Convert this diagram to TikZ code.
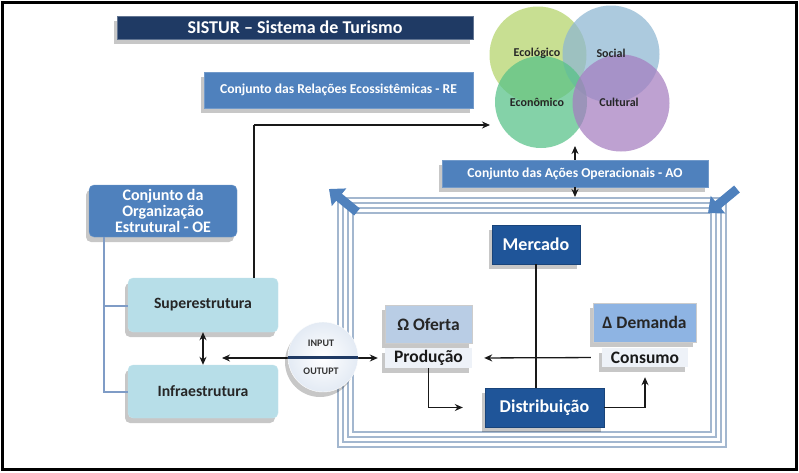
\documentclass[tikz,border=0pt]{standalone}
\usepackage{fontspec}
\setmainfont{Carlito}
\usetikzlibrary{arrows.meta,shadows}
\definecolor{navy}{HTML}{1F3A64}
\definecolor{midblue}{HTML}{4F81BD}
\definecolor{darkblue}{HTML}{1F5599}
\definecolor{cyanbox}{HTML}{B7DEE8}
\definecolor{ofbox}{HTML}{B9CDE5}
\definecolor{dembox}{HTML}{8EB4E3}
\definecolor{palebox}{HTML}{EEF2F8}
\definecolor{framecol}{HTML}{A3B7CF}
\definecolor{bracket}{HTML}{7F9CC6}
\definecolor{ecol}{HTML}{B3D468}
\definecolor{socl}{HTML}{8DB6D2}
\definecolor{econ}{HTML}{55C187}
\definecolor{cult}{HTML}{A57DC0}
\tikzset{
  shad/.style={drop shadow={shadow xshift=-3pt, shadow yshift=-5pt, opacity=0.22, fill=black}},
  boxbase/.style={inner sep=2pt, align=center, font=\bfseries, shad},
  titlebox/.style={boxbase, fill=navy, draw=navy!70, text=white, font=\bfseries\fontsize{18}{20}\selectfont},
  midbox/.style={boxbase, fill=midblue, draw=midblue!80!white, text=white, font=\bfseries\fontsize{13.6}{15}\selectfont},
  oebox/.style={boxbase, fill=midblue, draw=midblue!80!white, rounded corners=5pt, text=white, font=\bfseries\fontsize{16}{19}\selectfont},
  cybox/.style={boxbase, fill=cyanbox, draw=cyanbox!80!white, rounded corners=5pt, text=black!85, font=\bfseries\fontsize{15.7}{18}\selectfont},
  dkbox/.style={boxbase, fill=darkblue, draw=darkblue!80!black, text=white, font=\bfseries\fontsize{18}{20}\selectfont},
  ltbox/.style={boxbase, draw=white!80!black, text=black!85, font=\bfseries\fontsize{17.5}{20}\selectfont},
  pbox/.style={boxbase, fill=palebox, draw=none, text=black!90, font=\bfseries\fontsize{17.5}{20}\selectfont},
  venn/.style={circle, fill opacity=0.72},
  vlab/.style={font=\bfseries\fontsize{12}{14}\selectfont, text=black!85},
  iolab/.style={font=\bfseries\fontsize{10}{12}\selectfont, text=black!80},
  conn/.style={draw=black!90, line width=1.3pt, -{Stealth[length=8pt,width=7pt]}},
  dconn/.style={draw=black!90, line width=1.3pt, {Stealth[length=8pt,width=7pt]}-{Stealth[length=8pt,width=7pt]}},
  bigarrow/.style={draw=midblue, line width=9pt, -{Triangle[width=22pt,length=13pt]}},
}
\begin{document}
\begin{tikzpicture}[x=1pt,y=-1pt]
\useasboundingbox (0,0) rectangle (799,472);
\fill[white] (0,0) rectangle (799,472);
\draw[line width=3pt, black] (2.5,2.5) rectangle (796.5,469);

% nested frames
\foreach \d in {0,5,10,15}
  \draw[framecol, line width=1.3pt] (338+\d,198+\d) rectangle (726-\d,447-\d);

% top boxes
\node[titlebox, minimum width=356pt, minimum height=23pt] (title) at (295,27.5) {SISTUR – Sistema de Turismo};
\node[midbox, minimum width=269pt, minimum height=36pt] (re) at (338.5,90) {Conjunto das Relações Ecossistêmicas - RE};
\node[midbox, minimum width=266pt, minimum height=27pt] (ao) at (575,173.5) {Conjunto das Ações Operacionais - AO};

% Venn
\node[venn, fill=ecol, minimum size=97pt] (eco) at (538,55) {};
\node[venn, fill=socl, minimum size=97pt] (soc) at (611,54) {};
\node[venn, fill=econ, minimum size=92pt] (ecn) at (541,102) {};
\node[venn, fill=cult, minimum size=97pt] (cul) at (621,103) {};
\node[vlab] (ecolab) at (537,53) {Ecológico};
\node[vlab] (soclab) at (611,53) {Social};
\node[vlab] (ecnlab) at (537,102) {Econômico};
\node[vlab] (cullab) at (619,102) {Cultural};

\coordinate (vennbot) at (575,146);
\coordinate (frametop) at (575,197);
\draw[conn] (ao.north) -- (vennbot);
\draw[conn] (ao.south) -- (frametop);

% big blue arrows
\coordinate (tlA) at (357,212);
\coordinate (tlB) at (329,189);
\coordinate (trA) at (737,189);
\coordinate (trB) at (708,213);
\draw[bigarrow] (tlA) -- (tlB);
\draw[bigarrow] (trA) -- (trB);

% left boxes
\node[oebox, minimum width=148pt, minimum height=52pt] (oe) at (163,211) {Conjunto da\\[-3pt]Organização\\[-3pt]Estrutural - OE};
\node[cybox, minimum width=150pt, minimum height=54pt] (sup) at (203,305) {Superestrutura};
\node[cybox, minimum width=150pt, minimum height=53pt] (inf) at (203,391.5) {Infraestrutura};

\draw[bracket, line width=2pt] (104,237) |- (inf.west |- 0,392);
\draw[bracket, line width=2pt] (104,306) -- (sup.west |- 0,306);

\draw[dconn] (sup.south) -- (inf.north);

% superestrutura to Venn
\coordinate (supup) at (254,125);
\coordinate (vennleft) at (490,125);
\draw[draw=black!90, line width=1.3pt] (254,278) -- (supup);
\draw[conn] (supup) -- (vennleft);

% inner boxes
\node[dkbox, minimum width=88pt, minimum height=39pt] (merc) at (536,244.5) {Mercado};
\node[ltbox, fill=ofbox, minimum width=87pt, minimum height=38pt] (of) at (428.5,324) {Ω Oferta};
\node[pbox, minimum width=87pt, minimum height=20pt] (prod) at (428.5,358) {Produção};
\node[ltbox, fill=dembox, minimum width=103pt, minimum height=39pt] (dem) at (644.5,322.5) {Δ Demanda};
\node[pbox, minimum width=86pt, minimum height=19pt] (cons) at (645,357.5) {Consumo};
\node[dkbox, minimum width=119pt, minimum height=39pt] (dist) at (544.5,407.5) {Distribuição};

\draw[draw=black!90, line width=1.3pt] (merc.south) -- (merc.south |- dist.north);
\draw[conn, shorten <=11pt, shorten >=12pt] (cons.west) -- (prod.east);
\draw[conn, shorten >=22pt] (prod.south) |- (dist.west);
\draw[conn, shorten >=10pt] (dist.east) -| (cons.south);

% input/output circle
\coordinate (ioL) at (222,358);
\draw[dconn, shorten >=7pt] (ioL) -- (prod.west);
\node[circle, minimum size=70pt, inner color=white, outer color=palebox!80!ofbox, draw=white, shad] (io) at (323,357) {};
\draw[navy, line width=3pt] (io.west) -- (io.east);
\node[iolab] (inp) at (321,343) {INPUT};
\node[iolab] (outp) at (321,371) {OUTUPT};
\end{tikzpicture}
\end{document}
